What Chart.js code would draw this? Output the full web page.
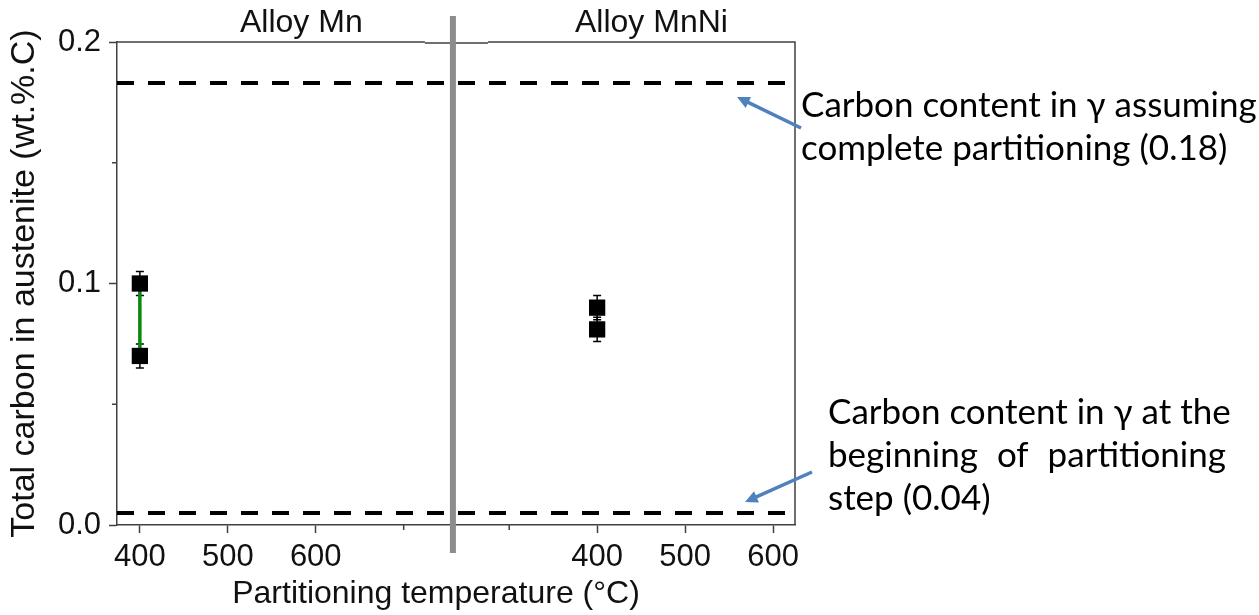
<!DOCTYPE html>
<html>
<head>
<meta charset="utf-8">
<script src="https://cdn.jsdelivr.net/npm/chart.js@4.4.0/dist/chart.umd.min.js"></script>
<style>
  html, body { margin: 0; padding: 0; background: #fff; }
</style>
</head>
<body>
<canvas id="chart" width="1259" height="615"></canvas>
<script>
// x axis has a break: the MnNi panel is drawn on the same linear scale, shifted right
const BREAK_SHIFT = 520;
const BREAK_AT = 756;
const X_MIN = 374, X_MAX = 1145;

const mnTemps = [400, 400];
const mnCarbon = [0.100, 0.070];
const mnErr = [0.005, 0.005];

const mnniTemps = [400, 400];
const mnniCarbon = [0.090, 0.081];
const mnniErr = [0.005, 0.005];

const completePartitioning = 0.183;
const initialCarbon = 0.005;

const leftTicks = [400, 500, 600];
const rightTicks = [400, 500, 600];
const leftMinor = [700];
const rightMinor = [300];
const yTicks = [0, 0.1, 0.2];
const yMinor = [0.05, 0.15];

const AXIS = '#404040';
const ARIAL = '"Liberation Sans", Arial, sans-serif';
const CALIBRI = 'Lato, "Noto Sans", sans-serif';

const toPts = (xs, ys, shift) => xs.map((x, i) => ({ x: x + shift, y: ys[i] }));

function arrow(ctx, x1, y1, x2, y2) {
    const a = Math.atan2(y2 - y1, x2 - x1);
    const head = 14;
    ctx.save();
    ctx.strokeStyle = '#4f81bd';
    ctx.fillStyle = '#4f81bd';
    ctx.lineWidth = 3.5;
    ctx.beginPath();
    ctx.moveTo(x1, y1);
    ctx.lineTo(x2 - Math.cos(a) * head * 0.8, y2 - Math.sin(a) * head * 0.8);
    ctx.stroke();
    ctx.beginPath();
    ctx.moveTo(x2, y2);
    ctx.lineTo(x2 - head * Math.cos(a - 0.45), y2 - head * Math.sin(a - 0.45));
    ctx.lineTo(x2 - head * Math.cos(a + 0.45), y2 - head * Math.sin(a + 0.45));
    ctx.closePath();
    ctx.fill();
    ctx.restore();
}

function justified(ctx, words, x, y, width) {
    const total = words.reduce((s, w) => s + ctx.measureText(w).width, 0);
    const gap = (width - total) / (words.length - 1);
    let cx = x;
    words.forEach(w => {
        ctx.fillText(w, cx, y);
        cx += ctx.measureText(w).width + gap;
    });
}

const extras = {
    id: 'extras',
    beforeDatasetsDraw(chart) {
        const { ctx, scales: { x, y } } = chart;
        ctx.save();
        ctx.strokeStyle = '#000';
        ctx.lineWidth = 1.5;
        const bars = [[mnTemps, mnCarbon, mnErr, 0], [mnniTemps, mnniCarbon, mnniErr, BREAK_SHIFT]];
        bars.forEach(([ts, cs, es, shift]) => {
            ts.forEach((t, i) => {
                const px = x.getPixelForValue(t + shift);
                const top = y.getPixelForValue(cs[i] + es[i]);
                const bot = y.getPixelForValue(cs[i] - es[i]);
                ctx.beginPath();
                ctx.moveTo(px, top); ctx.lineTo(px, bot);
                ctx.moveTo(px - 4, top); ctx.lineTo(px + 4, top);
                ctx.moveTo(px - 4, bot); ctx.lineTo(px + 4, bot);
                ctx.stroke();
            });
        });
        ctx.restore();
    },
    afterDraw(chart) {
        const { ctx, chartArea: a, scales: { x, y } } = chart;
        ctx.save();

        // frame: top (with the small step at the break) and right
        const bx = x.getPixelForValue(BREAK_AT);
        ctx.strokeStyle = AXIS;
        ctx.lineWidth = 1.5;
        ctx.beginPath();
        ctx.moveTo(a.left, a.top); ctx.lineTo(bx - 28, a.top);
        ctx.moveTo(bx - 28, a.top + 1); ctx.lineTo(bx + 35, a.top + 1);
        ctx.moveTo(bx + 35, a.top); ctx.lineTo(a.right, a.top);
        ctx.lineTo(a.right, a.bottom);
        ctx.stroke();

        // minor ticks
        ctx.beginPath();
        [...leftMinor, ...rightMinor.map(t => t + BREAK_SHIFT)].forEach(v => {
            const px = x.getPixelForValue(v);
            ctx.moveTo(px, a.bottom); ctx.lineTo(px, a.bottom + 5);
        });
        yMinor.forEach(v => {
            const py = y.getPixelForValue(v);
            ctx.moveTo(a.left, py); ctx.lineTo(a.left - 5, py);
        });
        ctx.stroke();

        // break bar
        ctx.strokeStyle = '#8c8c8c';
        ctx.lineWidth = 6;
        ctx.beginPath();
        ctx.moveTo(bx, 16); ctx.lineTo(bx, 553);
        ctx.stroke();

        // panel labels
        ctx.fillStyle = '#111';
        ctx.font = '32px ' + ARIAL;
        ctx.textBaseline = 'alphabetic';
        ctx.textAlign = 'left';
        ctx.fillText('Alloy Mn', 240, 32);
        ctx.fillText('Alloy MnNi', 575, 32);

        // x title
        ctx.textAlign = 'center';
        ctx.textBaseline = 'middle';
        ctx.fillText('Partitioning temperature (°C)', 436, 594);

        // annotations
        ctx.fillStyle = '#000';
        ctx.textAlign = 'left';
        ctx.textBaseline = 'alphabetic';
        ctx.font = '35px ' + CALIBRI;
        ctx.fillText('Carbon content in γ assuming', 801, 117);
        ctx.fillText('complete partitioning (0.18)', 801, 160);
        ctx.fillText('Carbon content in γ at the', 828, 424);
        justified(ctx, ['beginning', 'of', 'partitioning'], 828, 467, 398);
        ctx.fillText('step (0.04)', 828, 510);

        arrow(ctx, 801, 128, 737, 97);
        arrow(ctx, 812, 472, 745, 502);

        ctx.restore();
    }
};

new Chart(document.getElementById('chart'), {
    type: 'scatter',
    data: {
        datasets: [
            {
                label: 'Alloy Mn',
                data: toPts(mnTemps, mnCarbon, 0),
                pointStyle: 'rect',
                pointRadius: 11.5,
                backgroundColor: '#000',
                borderColor: '#000',
                borderWidth: 0
            },
            {
                label: 'Alloy MnNi',
                data: toPts(mnniTemps, mnniCarbon, BREAK_SHIFT),
                pointStyle: 'rect',
                pointRadius: 11.5,
                backgroundColor: '#000',
                borderColor: '#000',
                borderWidth: 0
            },
            {
                label: 'Mn range',
                data: toPts(mnTemps, mnCarbon, 0),
                showLine: true,
                borderColor: '#0a8a0a',
                borderWidth: 3.5,
                pointRadius: 0
            },
            {
                label: 'complete partitioning',
                data: [{ x: X_MIN, y: completePartitioning }, { x: X_MAX, y: completePartitioning }],
                showLine: true,
                borderColor: '#000',
                borderWidth: 4,
                borderDash: [17, 14],
                pointRadius: 0
            },
            {
                label: 'initial',
                data: [{ x: X_MIN, y: initialCarbon }, { x: X_MAX, y: initialCarbon }],
                showLine: true,
                borderColor: '#000',
                borderWidth: 4,
                borderDash: [17, 14],
                pointRadius: 0
            }
        ]
    },
    options: {
        responsive: false,
        animation: false,
        devicePixelRatio: 1,
        layout: { padding: { top: 42, right: 464, left: 0, bottom: 0 } },
        plugins: {
            legend: { display: false },
            tooltip: { enabled: false }
        },
        scales: {
            x: {
                type: 'linear',
                min: X_MIN,
                max: X_MAX,
                afterBuildTicks: scale => {
                    scale.ticks = [...leftTicks, ...rightTicks.map(t => t + BREAK_SHIFT)].map(v => ({ value: v }));
                },
                afterFit: scale => { scale.height = 90; },
                grid: { drawOnChartArea: false, tickLength: 8, color: AXIS, tickWidth: 1.5 },
                border: { color: AXIS, width: 1.5 },
                ticks: {
                    autoSkip: false,
                    maxRotation: 0,
                    padding: 6,
                    color: '#111',
                    font: { family: ARIAL, size: 31 },
                    callback: v => (v > BREAK_AT ? v - BREAK_SHIFT : v)
                }
            },
            y: {
                min: 0,
                max: 0.2,
                afterBuildTicks: scale => {
                    scale.ticks = yTicks.map(v => ({ value: v }));
                },
                afterFit: scale => { scale.width = 117; },
                grid: { drawOnChartArea: false, tickLength: 8, color: AXIS, tickWidth: 1.5 },
                border: { color: AXIS, width: 1.5 },
                ticks: {
                    padding: 8,
                    color: '#111',
                    font: { family: ARIAL, size: 31 },
                    callback: v => v.toFixed(1)
                },
                title: {
                    display: true,
                    text: 'Total carbon in austenite (wt.%.C)',
                    color: '#111',
                    font: { family: ARIAL, size: 34 },
                    padding: { top: 4, bottom: 0 }
                }
            }
        }
    },
    plugins: [extras]
});
</script>
</body>
</html>
